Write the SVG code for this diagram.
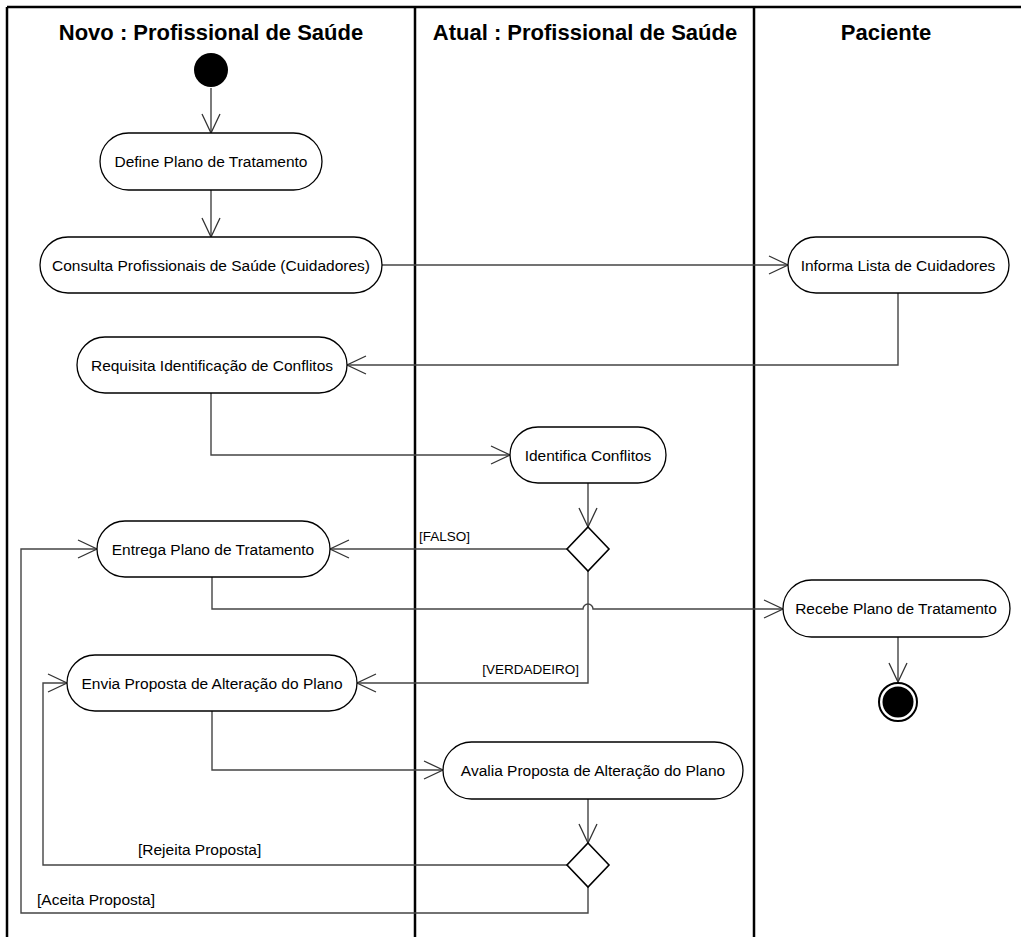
<svg xmlns="http://www.w3.org/2000/svg" width="1021" height="937" viewBox="0 0 1021 937">
<style>
  .lane { stroke: #000; stroke-width: 2.5; fill: none; }
  .hdr { font-family: "Liberation Sans", Arial, sans-serif; font-weight: bold; font-size: 22px; fill: #000; text-anchor: middle; }
  .act { fill: #fff; stroke: #000; stroke-width: 1.3; }
  .txt { font-family: "Liberation Sans", Arial, sans-serif; font-size: 15.5px; fill: #000; text-anchor: middle; }
  .lbl { font-family: "Liberation Sans", Arial, sans-serif; font-size: 15.5px; fill: #000; }
  .caps { font-size: 13.5px; }
  .conn { fill: none; stroke: #444; stroke-width: 1.4; marker-end: url(#arr); }
  .plain { fill: none; stroke: #444; stroke-width: 1.4; }
  .dec { fill: #fff; stroke: #000; stroke-width: 1.6; }
</style>
<defs>
  <marker id="arr" markerUnits="userSpaceOnUse" markerWidth="40" markerHeight="40" refX="0" refY="0" orient="auto" overflow="visible">
    <path d="M-19,-9 L0,0 L-19,9" fill="none" stroke="#333" stroke-width="1.3"/>
  </marker>
</defs>
<rect width="1021" height="937" fill="#fff"/>
<g id="swimlanes">
  <line class="lane" x1="7" y1="7" x2="1021" y2="7"/>
  <line class="lane" x1="7" y1="7" x2="7" y2="937"/>
  <line class="lane" x1="415" y1="7" x2="415" y2="937"/>
  <line class="lane" x1="754" y1="7" x2="754" y2="937"/>
  <text class="hdr" x="211" y="40">Novo : Profissional de Saúde</text>
  <text class="hdr" x="585" y="40">Atual : Profissional de Saúde</text>
  <text class="hdr" x="886" y="40">Paciente</text>
</g>
<g id="connectors">
  <path class="conn" d="M211,88 V133"/>
  <path class="conn" d="M211,190 V237"/>
  <path class="conn" d="M382,265 H788"/>
  <path class="conn" d="M898,293 V365 H347"/>
  <path class="conn" d="M211,393 V455 H510"/>
  <path class="conn" d="M588,483 V527"/>
  <path class="conn" d="M567,549 H330"/>
  <path class="conn" d="M212,577 V609 H583 A5,5 0 0 1 593,609 H783"/>
  <path class="conn" d="M898,637 V682"/>
  <path class="conn" d="M588,571 V683 H357"/>
  <path class="conn" d="M212,711 V770 H443"/>
  <path class="conn" d="M588,799 V843"/>
  <path class="conn" d="M567,865 H43 V683 H67"/>
  <path class="conn" d="M588,887 V913 H21 V549 H97"/>
  <text class="lbl caps" x="419" y="541">[FALSO]</text>
  <text class="lbl caps" x="579" y="674" text-anchor="end">[VERDADEIRO]</text>
  <text class="lbl" x="138" y="855">[Rejeita Proposta]</text>
  <text class="lbl" x="37" y="905">[Aceita Proposta]</text>
</g>
<g id="start"><circle cx="211" cy="70" r="17" fill="#000"/></g>
<g id="define">
  <rect class="act" x="100" y="133" width="222" height="57" rx="28.5"/>
  <text class="txt" x="211" y="167">Define Plano de Tratamento</text>
</g>
<g id="consulta">
  <rect class="act" x="40" y="237" width="342" height="56" rx="28"/>
  <text class="txt" x="211" y="271">Consulta Profissionais de Saúde (Cuidadores)</text>
</g>
<g id="informa">
  <rect class="act" x="788" y="237" width="221" height="56" rx="28"/>
  <text class="txt" x="898" y="271">Informa Lista de Cuidadores</text>
</g>
<g id="requisita">
  <rect class="act" x="77" y="337" width="270" height="56" rx="28"/>
  <text class="txt" x="212" y="371">Requisita Identificação de Conflitos</text>
</g>
<g id="identifica">
  <rect class="act" x="510" y="427" width="156" height="56" rx="28"/>
  <text class="txt" x="588" y="461">Identifica Conflitos</text>
</g>
<g id="decisao1"><path class="dec" d="M588,527 L609,549 L588,571 L567,549 Z"/></g>
<g id="entrega">
  <rect class="act" x="97" y="521" width="233" height="56" rx="28"/>
  <text class="txt" x="213" y="555">Entrega Plano de Tratamento</text>
</g>
<g id="recebe">
  <rect class="act" x="783" y="580" width="227" height="57" rx="28.5"/>
  <text class="txt" x="896" y="614">Recebe Plano de Tratamento</text>
</g>
<g id="fim">
  <circle cx="898" cy="702" r="19" fill="#fff" stroke="#000" stroke-width="2"/>
  <circle cx="898" cy="702" r="15.5" fill="#000"/>
</g>
<g id="envia">
  <rect class="act" x="67" y="655" width="290" height="56" rx="28"/>
  <text class="txt" x="212" y="689">Envia Proposta de Alteração do Plano</text>
</g>
<g id="avalia">
  <rect class="act" x="443" y="742" width="300" height="57" rx="28.5"/>
  <text class="txt" x="593" y="776">Avalia Proposta de Alteração do Plano</text>
</g>
<g id="decisao2"><path class="dec" d="M588,843 L609,865 L588,887 L567,865 Z"/></g>
</svg>
